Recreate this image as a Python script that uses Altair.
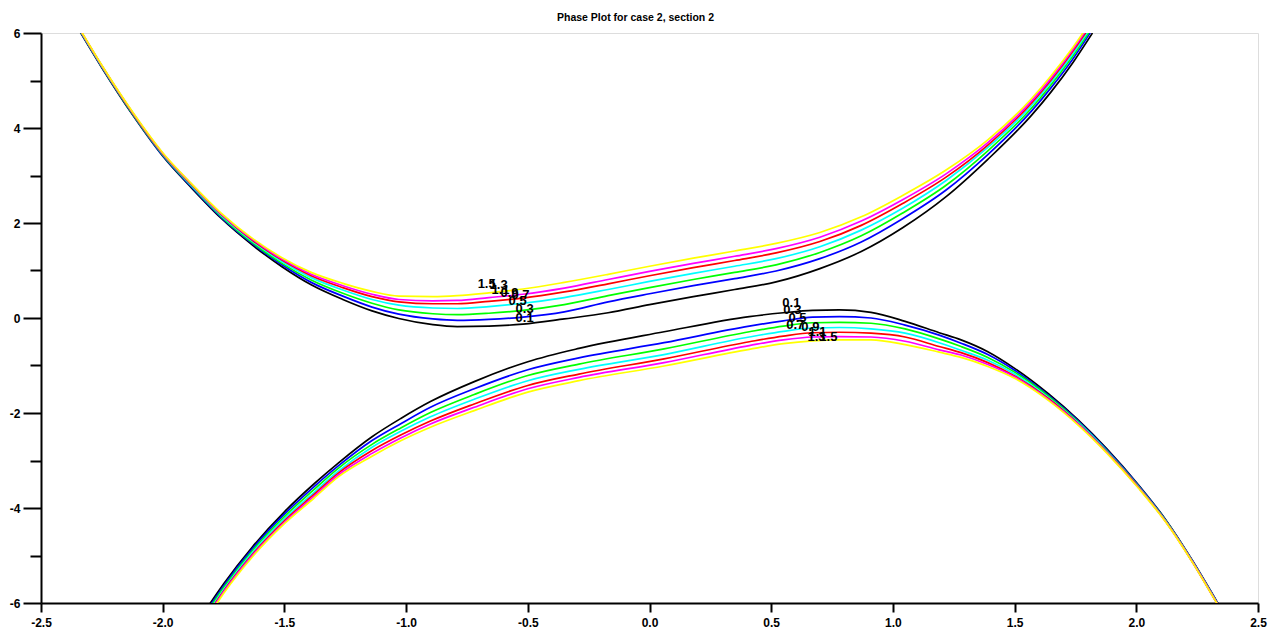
import altair as alt
import pandas as pd

levels = ["0.1", "0.3", "0.5", "0.7", "0.9", "1.1", "1.3"]
colors = ["#000000", "#0000ff", "#00ff00", "#00ffff", "#ff0000", "#ff00ff", "#ffff00"]

# ---- upper branch ----
top_x = [-2.34, -2.25, -2.12, -2.00, -1.88, -1.76, -1.63, -1.51, -1.39, -1.26, -1.14, -1.03,
         -0.89, -0.79, -0.66, -0.52, -0.35, -0.17, 0.00, 0.18, 0.35, 0.52, 0.70, 0.87,
         1.04, 1.22, 1.39, 1.57, 1.65, 1.74, 1.82]
top_y_01 = [6.03, 5.27, 4.25, 3.41, 2.73, 2.10, 1.53, 1.08, 0.70, 0.39, 0.15, -0.01,
            -0.14, -0.18, -0.17, -0.13, -0.02, 0.11, 0.28, 0.45, 0.60, 0.76, 1.04, 1.40,
            1.90, 2.56, 3.34, 4.27, 4.76, 5.38, 6.00]
top_y_03 = [6.04, 5.28, 4.26, 3.42, 2.75, 2.12, 1.56, 1.12, 0.75, 0.46, 0.23, 0.08,
            -0.02, -0.05, -0.03, 0.02, 0.13, 0.34, 0.51, 0.68, 0.83, 0.99, 1.25, 1.60,
            2.09, 2.70, 3.44, 4.36, 4.85, 5.46, 6.08]
top_y_05 = [6.05, 5.29, 4.27, 3.44, 2.77, 2.14, 1.58, 1.15, 0.80, 0.52, 0.31, 0.17,
            0.09, 0.07, 0.10, 0.16, 0.28, 0.47, 0.64, 0.81, 0.96, 1.12, 1.38, 1.73,
            2.21, 2.80, 3.52, 4.42, 4.91, 5.52, 6.13]
top_y_07 = [6.06, 5.30, 4.29, 3.45, 2.78, 2.16, 1.61, 1.19, 0.85, 0.59, 0.39, 0.27,
            0.21, 0.20, 0.24, 0.31, 0.43, 0.60, 0.77, 0.94, 1.09, 1.25, 1.50, 1.85,
            2.31, 2.90, 3.59, 4.48, 4.97, 5.57, 6.18]
top_y_09 = [6.07, 5.31, 4.29, 3.46, 2.80, 2.18, 1.63, 1.22, 0.89, 0.64, 0.45, 0.34,
            0.30, 0.30, 0.35, 0.42, 0.55, 0.72, 0.89, 1.06, 1.21, 1.37, 1.61, 1.95,
            2.41, 2.97, 3.64, 4.53, 5.01, 5.62, 6.22]
top_y_11 = [6.07, 5.31, 4.30, 3.47, 2.81, 2.19, 1.65, 1.24, 0.92, 0.68, 0.50, 0.39,
            0.36, 0.37, 0.43, 0.50, 0.63, 0.81, 0.98, 1.15, 1.30, 1.46, 1.70, 2.04,
            2.49, 3.04, 3.69, 4.57, 5.05, 5.66, 6.26]
top_y_13 = [6.08, 5.32, 4.31, 3.48, 2.82, 2.21, 1.67, 1.27, 0.96, 0.73, 0.56, 0.46,
            0.45, 0.47, 0.53, 0.61, 0.75, 0.92, 1.09, 1.26, 1.41, 1.57, 1.80, 2.13,
            2.58, 3.12, 3.75, 4.62, 5.10, 5.70, 6.30]

# ---- lower branch ----
bot_x = [-1.82, -1.75, -1.63, -1.50, -1.38, -1.28, -1.14, -1.02, -0.90, -0.72, -0.50,
         -0.29, 0.06, 0.41, 0.55, 0.67, 0.78, 0.91, 1.05, 1.19, 1.28, 1.39, 1.50, 1.64,
         1.76, 1.88, 2.01, 2.12, 2.23, 2.33, 2.36]
bot_y_01 = [-6.12, -5.60, -4.81, -4.08, -3.50, -3.06, -2.50, -2.11, -1.76, -1.34, -0.92,
            -0.64, -0.29, 0.03, 0.11, 0.16, 0.17, 0.12, -0.07, -0.31, -0.46, -0.71, -1.06, -1.60,
            -2.14, -2.76, -3.52, -4.24, -5.10, -5.96, -6.22]
bot_y_03 = [-6.17, -5.64, -4.85, -4.13, -3.56, -3.12, -2.58, -2.22, -1.88, -1.49, -1.09,
            -0.84, -0.52, -0.17, -0.06, 0.02, 0.03, 0.00, -0.15, -0.36, -0.53, -0.77, -1.10, -1.63,
            -2.16, -2.78, -3.53, -4.25, -5.11, -5.97, -6.23]
bot_y_05 = [-6.21, -5.68, -4.89, -4.18, -3.62, -3.17, -2.66, -2.31, -1.99, -1.61, -1.21,
            -0.97, -0.65, -0.29, -0.17, -0.10, -0.09, -0.11, -0.23, -0.44, -0.60, -0.83, -1.14, -1.65,
            -2.18, -2.80, -3.55, -4.26, -5.12, -5.98, -6.24]
bot_y_07 = [-6.26, -5.72, -4.93, -4.23, -3.68, -3.23, -2.72, -2.38, -2.08, -1.71, -1.32,
            -1.08, -0.77, -0.40, -0.28, -0.21, -0.20, -0.23, -0.32, -0.52, -0.68, -0.89, -1.18, -1.68,
            -2.20, -2.81, -3.56, -4.27, -5.12, -5.98, -6.24]
bot_y_09 = [-6.29, -5.75, -4.97, -4.27, -3.72, -3.27, -2.79, -2.46, -2.17, -1.81, -1.42,
            -1.18, -0.86, -0.50, -0.38, -0.31, -0.30, -0.32, -0.40, -0.60, -0.73, -0.94, -1.22, -1.70,
            -2.22, -2.83, -3.57, -4.28, -5.13, -5.99, -6.25]
bot_y_11 = [-6.32, -5.77, -4.99, -4.30, -3.76, -3.31, -2.85, -2.52, -2.23, -1.88, -1.49,
            -1.25, -0.94, -0.58, -0.46, -0.40, -0.39, -0.40, -0.49, -0.67, -0.78, -0.98, -1.24, -1.72,
            -2.23, -2.84, -3.58, -4.28, -5.13, -5.99, -6.25]
bot_y_13 = [-6.35, -5.80, -5.02, -4.33, -3.80, -3.35, -2.91, -2.58, -2.30, -1.95, -1.56,
            -1.32, -1.01, -0.66, -0.54, -0.48, -0.46, -0.46, -0.56, -0.72, -0.83, -1.02, -1.27, -1.74,
            -2.25, -2.85, -3.59, -4.29, -5.14, -6.00, -6.26]

# ---- contour labels ----
label_text = ["1.5", "1.3", "1.1", "0.9", "0.7", "0.5", "0.3", "0.1",
              "0.1", "0.3", "0.5", "0.7", "0.9", "1.1", "1.3", "1.5"]
label_x = [-0.669, -0.620, -0.612, -0.575, -0.530, -0.542, -0.513, -0.513,
           0.583, 0.587, 0.608, 0.599, 0.661, 0.690, 0.686, 0.735]
label_y = [0.716, 0.695, 0.589, 0.526, 0.484, 0.358, 0.189, 0.000,
           0.316, 0.168, 0.000, -0.147, -0.189, -0.295, -0.400, -0.400]

x_ticks = [-2.5, -2.0, -1.5, -1.0, -0.5, 0.0, 0.5, 1.0, 1.5, 2.0, 2.5]
y_ticks = [-6, -5, -4, -3, -2, -1, 0, 1, 2, 3, 4, 5, 6]

top_sets = [top_y_01, top_y_03, top_y_05, top_y_07, top_y_09, top_y_11, top_y_13]
bot_sets = [bot_y_01, bot_y_03, bot_y_05, bot_y_07, bot_y_09, bot_y_11, bot_y_13]

rows = []
for lev, ys in zip(levels, top_sets):
    for i, (xv, yv) in enumerate(zip(top_x, ys)):
        rows.append({"level": lev, "branch": "top", "x": xv, "y": yv, "idx": i})
for lev, ys in zip(levels, bot_sets):
    for i, (xv, yv) in enumerate(zip(bot_x, ys)):
        rows.append({"level": lev, "branch": "bottom", "x": xv, "y": yv, "idx": i})
df = pd.DataFrame(rows)
labels_df = pd.DataFrame({"x": label_x, "y": label_y, "t": label_text})

FONT = "Liberation Sans"

xscale = alt.Scale(domain=[-2.5, 2.5], nice=False, zero=False)
yscale = alt.Scale(domain=[-6, 6], nice=False, zero=False)

xaxis = alt.Axis(values=x_ticks, title=None, grid=False,
                 labelExpr="replace(format(datum.value, '.1f'), '\u2212', '-')",
                 labelFont=FONT, labelFontWeight="bold", labelFontSize=12, labelColor="black",
                 domainColor="black", domainWidth=2, tickColor="black", tickWidth=2,
                 tickSize=9, labelPadding=5, labelFlush=False)
yaxis = alt.Axis(values=y_ticks, title=None, grid=False,
                 labelExpr="datum.value % 2 == 0 ? replace(format(datum.value, 'd'), '\u2212', '-') : ''",
                 labelFont=FONT, labelFontWeight="bold", labelFontSize=12, labelColor="black",
                 domainColor="black", domainWidth=2, tickColor="black", tickWidth=2,
                 tickSize={"condition": {"test": "datum.value % 2 == 0", "value": 18}, "value": 11},
                 labelPadding=3, labelFlush=False)

lines = alt.Chart(df).mark_line(strokeWidth=1.7, clip=True, interpolate="monotone").encode(
    x=alt.X("x:Q", scale=xscale, axis=xaxis),
    y=alt.Y("y:Q", scale=yscale, axis=yaxis),
    color=alt.Color("level:N", scale=alt.Scale(domain=levels, range=colors), legend=None),
    detail="branch:N",
    order="idx:Q",
)

texts = alt.Chart(labels_df).mark_text(font=FONT, fontWeight="bold", fontSize=13,
                                       color="black").encode(
    x=alt.X("x:Q", scale=xscale),
    y=alt.Y("y:Q", scale=yscale),
    text="t:N",
)

chart = alt.layer(lines, texts).properties(
    width=1217, height=570,
    title=alt.Title("Phase Plot for case 2, section 2", font=FONT, fontSize=10.5,
                    fontWeight="bold", color="black", anchor="middle", offset=4, dx=-14),
    padding={"left": 33, "top": 25, "right": 14, "bottom": 25},
    autosize=alt.AutoSizeParams(type="none"),
).configure_view(stroke=None).configure(background="white")

chart.save("out.html", embed_options={"renderer": "svg", "actions": False})
